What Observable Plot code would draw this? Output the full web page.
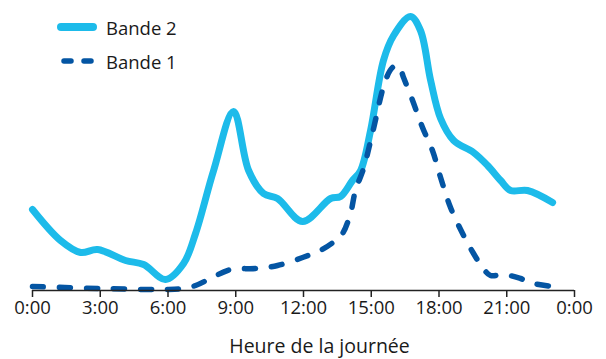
<!DOCTYPE html>
<html>
<head>
<meta charset="utf-8">
<script src="https://cdn.jsdelivr.net/npm/d3@7"></script>
<script src="https://cdn.jsdelivr.net/npm/@observablehq/plot@0.6"></script>
<style>
  html, body { margin: 0; padding: 0; background: #fff; }
  #wrap { position: relative; width: 606px; height: 359px; font-family: "Open Sans", sans-serif; }
  #legend { position: absolute; left: 57px; top: 10px; font-size: 18.5px; color: #1a1a1a; }
  #legend .row { display: flex; align-items: center; height: 34px; }
  #legend svg { width: 40px; height: 12px; margin-right: 9px; }
</style>
</head>
<body>
<div id="wrap">
  <div id="chart"></div>
  <div id="legend"></div>
</div>
<script>
// Hours of the day (x) and relative traffic (y)
const hours2 = [0, 1.24, 2.13, 2.88, 4.12, 4.92, 5.89, 6.69, 7.22, 8.02, 8.9, 9.57, 10.23, 10.85, 11.96, 13.2, 13.64, 14.17, 14.53, 14.97, 15.54, 15.99, 16.74, 17.18, 17.63, 18.07, 18.65, 19.53, 20.15, 20.73, 21.17, 21.92, 23.03];
const bande2 = [81, 50, 38, 41, 30, 26, 11, 27, 57, 120, 179, 120, 97, 92, 69, 92, 94, 110, 120, 160, 230, 255, 274, 260, 210, 172, 150, 138, 125, 110, 100, 100, 88];

const hours1 = [0, 3.01, 5.98, 6.69, 7.22, 7.88, 8.77, 9.88, 10.85, 11.96, 12.75, 13.42, 13.73, 14.08, 14.3, 14.66, 15.06, 15.63, 15.94, 16.21, 16.43, 16.83, 17.27, 17.71, 18.07, 18.51, 19.09, 19.53, 19.93, 20.28, 20.86, 21.61, 22.19, 23.03];
const bande1 = [4, 2, 1, 2, 5, 12, 21, 22, 25, 33, 40, 50, 57, 77, 100, 122, 158, 210, 223, 225, 213, 190, 163, 140, 113, 83, 55, 37, 23, 15, 16, 12, 7, 4];

const tickHours = [0, 3, 6, 9, 12, 15, 18, 21, 24];
const seriesNames = ["Bande 2", "Bande 1"];
const colors = ["#1dbbea", "#0455a3"];
const xLabel = ["Heure de la journée"];

const d2 = hours2.map((h, i) => ({h, v: bande2[i]}));
const d1 = hours1.map((h, i) => ({h, v: bande1[i]}));

const chart = Plot.plot({
  width: 606,
  height: 359,
  marginLeft: 32,
  marginRight: 32,
  marginTop: 10,
  marginBottom: 69,
  style: {fontFamily: "Open Sans, sans-serif", fontSize: "18.5px", color: "#1a1a1a", background: "#fff"},
  x: {domain: [0, 24]},
  y: {domain: [0, 280], axis: null},
  marks: [
    Plot.line(d2, {x: "h", y: "v", stroke: colors[0], strokeWidth: 7, curve: "catmull-rom", strokeLinecap: "round", strokeLinejoin: "round"}),
    Plot.line(d1, {x: "h", y: "v", stroke: colors[1], strokeWidth: 5.5, curve: "catmull-rom", strokeLinecap: "round", strokeDasharray: "11,16"}),
    Plot.ruleY([0], {stroke: "#222", strokeWidth: 1.5}),
    Plot.axisX({ticks: tickHours, tickFormat: d => `${d % 24}:00`, tickSize: 7, tickPadding: 3, strokeWidth: 1.5, stroke: "#222", label: null}),
    Plot.text(xLabel, {text: d => d, frameAnchor: "bottom", dx: 16, dy: 56, lineAnchor: "middle", fontSize: 19.5, fill: "#1a1a1a"})
  ]
});
document.getElementById("chart").appendChild(chart);

// Legend
const legend = document.getElementById("legend");
seriesNames.forEach((name, i) => {
  const row = document.createElement("div");
  row.className = "row";
  const dash = i === 1 ? 'stroke-dasharray="7,13" stroke-width="5.5"' : 'stroke-width="8"';
  const x1 = i === 1 ? 7 : 4;
  row.innerHTML = `<svg viewBox="0 0 40 12"><line x1="${x1}" y1="6" x2="36" y2="6" stroke="${colors[i]}" stroke-linecap="round" ${dash}/></svg><span>${name}</span>`;
  legend.appendChild(row);
});
</script>
</body>
</html>
